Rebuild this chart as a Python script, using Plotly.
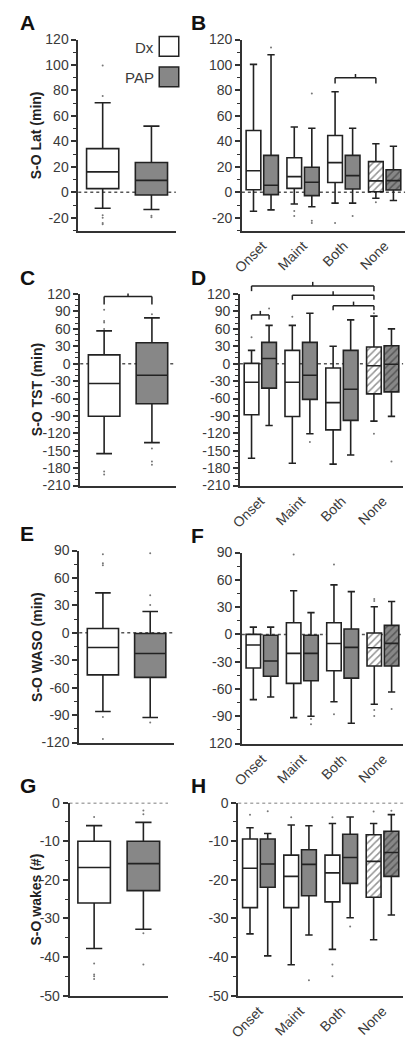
import plotly.graph_objects as go

FONT = "Liberation Sans, Arial, sans-serif"
W, H = 407, 1046
DX_FILL = "white"
PAP_FILL = "#878787"
EDGE = "#222222"
TXT = "#3a3a3a"

groups = ["Dx", "PAP"]
cats = ["Onset", "Maint", "Both", "None"]

# ---------------- Panel A: S-O Lat (min) ----------------
A_low = [-12.5, -13.5]
A_q1 = [2.9, -2.1]
A_med = [16.1, 9.4]
A_q3 = [34.3, 23.4]
A_high = [70.4, 52.0]
A_out = [[99.5, 75.6, -18.0, -20.0, -24.0, -25.0], [-18.4, -19.5]]

# ---------------- Panel B ----------------
B_dx_low = [-14.9, -9.2, -8.5, -4.6]
B_dx_q1 = [2.0, 3.1, 7.7, 0.5]
B_dx_med = [16.9, 12.3, 23.3, 9.0]
B_dx_q3 = [48.5, 27.2, 44.6, 24.1]
B_dx_high = [100.5, 51.3, 79.0, 38.2]
B_pap_low = [-13.8, -11.3, -8.5, -6.4]
B_pap_q1 = [-1.8, -2.6, 2.6, 1.8]
B_pap_med = [5.6, 7.9, 13.1, 9.2]
B_pap_q3 = [29.0, 19.7, 29.0, 17.7]
B_pap_high = [108.0, 50.3, 50.3, 36.2]
B_out_dx = [[], [-14.6, -18.5], [-24.0], [-7.7]]
B_out_pap = [[113.8], [77.7, -22.3, -24.0], [-18.5], []]

# ---------------- Panel C: S-O TST (min) ----------------
C_low = [-155.0, -136.0]
C_q1 = [-90.5, -69.0]
C_med = [-34.0, -20.0]
C_q3 = [15.3, 36.0]
C_high = [56.6, 79.0]
C_out = [[93.0, 73.6, 71.0, 60.0, -185.6, -191.0], [85.0, -146.0, -168.6, -174.0]]

# ---------------- Panel D ----------------
D_dx_low = [-163.0, -171.5, -173.0, -99.0]
D_dx_q1 = [-88.0, -91.0, -114.0, -52.0]
D_dx_med = [-32.0, -32.0, -67.0, -3.4]
D_dx_q3 = [0.6, 23.0, -7.3, 28.8]
D_dx_high = [23.0, 66.0, 30.0, 82.0]
D_pap_low = [-106.6, -120.7, -157.4, -90.8]
D_pap_q1 = [-42.0, -61.5, -97.6, -48.5]
D_pap_med = [9.0, -20.0, -44.0, -1.0]
D_pap_q3 = [36.7, 36.7, 23.0, 31.0]
D_pap_high = [66.0, 87.0, 75.6, 60.0]
D_out_dx = [[45.7], [80.7], [], [87.0, -120.7]]
D_out_pap = [[95.0], [-135.0], [], [-168.6]]

# ---------------- Panel E: S-O WASO (min) ----------------
E_low = [-86.0, -92.5]
E_q1 = [-45.9, -48.7]
E_med = [-16.0, -22.6]
E_q3 = [4.7, -0.7]
E_high = [43.7, 23.3]
E_out = [[86.0, 76.0, 74.0, -92.0, -116.0], [87.0, 41.0, 30.5, -98.0]]

# ---------------- Panel F ----------------
F_dx_low = [-71.7, -91.5, -74.0, -76.8]
F_dx_q1 = [-37.0, -53.8, -40.0, -34.8]
F_dx_med = [-11.7, -20.9, -10.0, -14.6]
F_dx_q3 = [0.0, 12.8, 12.8, 1.5]
F_dx_high = [8.0, 48.0, 54.5, 30.4]
F_pap_low = [-68.8, -90.0, -97.7, -63.3]
F_pap_q1 = [-46.0, -51.0, -48.0, -34.8]
F_pap_med = [-29.3, -20.9, -14.3, -9.9]
F_pap_q3 = [-1.0, -1.0, 5.9, 9.9]
F_pap_high = [8.0, 24.0, 47.0, 36.2]
F_out_dx = [[], [87.8], [76.8, -87.8], [39.0, 36.6, -83.0, -89.6]]
F_out_pap = [[], [-93.0, -98.8], [], [-82.0]]

# ---------------- Panel G: S-O wakes (#) ----------------
G_low = [-37.8, -32.8]
G_q1 = [-26.0, -22.8]
G_med = [-16.8, -15.8]
G_q3 = [-10.0, -10.0]
G_high = [-5.95, -5.1]
G_out = [[-3.7, -41.7, -44.5, -45.0, -45.7], [-2.0, -3.0, -33.8, -41.9]]

# ---------------- Panel H ----------------
H_dx_low = [-34.0, -42.0, -38.0, -35.5]
H_dx_q1 = [-27.2, -27.2, -25.7, -24.5]
H_dx_med = [-17.0, -19.1, -18.2, -15.2]
H_dx_q3 = [-9.4, -13.6, -13.6, -8.3]
H_dx_high = [-6.5, -5.8, -5.4, -5.4]
H_pap_low = [-39.7, -34.3, -29.8, -29.1]
H_pap_q1 = [-21.9, -24.1, -20.9, -19.1]
H_pap_med = [-15.9, -16.0, -14.2, -12.9]
H_pap_q3 = [-9.4, -12.2, -8.2, -7.4]
H_pap_high = [-8.0, -6.0, -3.7, -3.1]
H_out_dx = [[-3.1], [-3.8], [-3.8, -41.9, -45.0], [-2.3]]
H_out_pap = [[-2.2], [-46.0], [-32.1], [-2.1]]

# significance brackets: (panel n, from (cat, group), to (cat, group), level, drop, tick up)
brackets = [
    (2, (2, 0), (3, 0), 90, 4.5, 3),
    (3, (0, 0), (0, 1), 116, 14, 5),
    (4, (0, 0), (3, 0), 134, 9, 7),
    (4, (1, 0), (3, 0), 118, 8, 7),
    (4, (2, 0), (3, 0), 100, 8, 7),
    (4, (0, 0), (0, 1), 84, 8, 7),
]

# ---------------- layout of panels (pixels) ----------------
panel_cfg = {
    1: dict(letter="A", x=(70, 170), y=(226, 32), yr=(-30, 120), dt=20, mn=10, title="S-O Lat (min)", left=True),
    2: dict(letter="B", x=(237.7, 405), y=(226, 32), yr=(-30, 120), dt=20, mn=10, left=False),
    3: dict(letter="C", x=(72, 170), y=(485, 290.5), yr=(-210, 120), dt=30, mn=10, title="S-O TST (min)", left=True),
    4: dict(letter="D", x=(235.7, 403), y=(485, 290.5), yr=(-210, 120), dt=30, mn=10, left=False),
    5: dict(letter="E", x=(71, 168), y=(746, 551), yr=(-120, 90), dt=30, mn=15, title="S-O WASO (min)", left=True),
    6: dict(letter="F", x=(237.7, 403), y=(747, 553), yr=(-120, 90), dt=30, mn=15, left=False),
    7: dict(letter="G", x=(61, 162), y=(1003, 807), yr=(-50, 0), dt=10, mn=5, title="S-O wakes (#)", left=True),
    8: dict(letter="H", x=(234, 403), y=(1003, 807), yr=(-50, 0), dt=10, mn=5, left=False),
}

OFF = 0.215


def sfx(n):
    return "" if n == 1 else str(n)


def pos(n, cat, grp):
    if panel_cfg[n]["left"]:
        return float(grp)
    return cat + (-OFF if grp == 0 else OFF)


fig = go.Figure()


def add_box(n, x, lo, q1, med, q3, hi, fill, hatch, width):
    xa, ya = "x" + sfx(n), "y" + sfx(n)
    if hatch:
        fig.add_trace(go.Bar(
            x=[x], y=[q3 - q1], base=[q1], width=width, xaxis=xa, yaxis=ya,
            marker=dict(color=fill, line=dict(width=0),
                        pattern=dict(shape="/", fgcolor="#2a2a2a", bgcolor=fill, size=5, solidity=0.3)),
            showlegend=False, hoverinfo="skip"))
    fig.add_trace(go.Box(
        x=[x], lowerfence=[lo], q1=[q1], median=[med], q3=[q3], upperfence=[hi],
        width=width, whiskerwidth=0.5, boxpoints=False,
        fillcolor="rgba(0,0,0,0)" if hatch else fill,
        line=dict(color=EDGE, width=1.6), xaxis=xa, yaxis=ya, showlegend=False))


def add_out(n, x, vals):
    if vals:
        fig.add_trace(go.Scatter(x=[x] * len(vals), y=vals, mode="markers",
                                 marker=dict(size=2, color="#777"),
                                 xaxis="x" + sfx(n), yaxis="y" + sfx(n),
                                 showlegend=False, hoverinfo="skip"))


left_data = {
    1: (A_low, A_q1, A_med, A_q3, A_high, A_out),
    3: (C_low, C_q1, C_med, C_q3, C_high, C_out),
    5: (E_low, E_q1, E_med, E_q3, E_high, E_out),
    7: (G_low, G_q1, G_med, G_q3, G_high, G_out),
}
for n, (lo, q1, md, q3, hi, outs) in left_data.items():
    for g in range(2):
        x = pos(n, 0, g)
        add_box(n, x, lo[g], q1[g], md[g], q3[g], hi[g], DX_FILL if g == 0 else PAP_FILL, False, 0.66)
        add_out(n, x, outs[g])

right_data = {
    2: ((B_dx_low, B_dx_q1, B_dx_med, B_dx_q3, B_dx_high, B_out_dx),
        (B_pap_low, B_pap_q1, B_pap_med, B_pap_q3, B_pap_high, B_out_pap)),
    4: ((D_dx_low, D_dx_q1, D_dx_med, D_dx_q3, D_dx_high, D_out_dx),
        (D_pap_low, D_pap_q1, D_pap_med, D_pap_q3, D_pap_high, D_out_pap)),
    6: ((F_dx_low, F_dx_q1, F_dx_med, F_dx_q3, F_dx_high, F_out_dx),
        (F_pap_low, F_pap_q1, F_pap_med, F_pap_q3, F_pap_high, F_out_pap)),
    8: ((H_dx_low, H_dx_q1, H_dx_med, H_dx_q3, H_dx_high, H_out_dx),
        (H_pap_low, H_pap_q1, H_pap_med, H_pap_q3, H_pap_high, H_out_pap)),
}
for n, grp_data in right_data.items():
    for g, (lo, q1, md, q3, hi, outs) in enumerate(grp_data):
        for c in range(len(cats)):
            x = pos(n, c, g)
            add_box(n, x, lo[c], q1[c], md[c], q3[c], hi[c],
                    DX_FILL if g == 0 else PAP_FILL, cats[c] == "None", 0.36)
            add_out(n, x, outs[c])

layout = dict(width=W, height=H, margin=dict(l=0, r=0, t=0, b=0),
              paper_bgcolor="white", plot_bgcolor="white",
              barmode="overlay", boxmode="overlay", showlegend=False,
              font=dict(family=FONT, color=TXT, size=14))

shapes, annots = [], []
for n, cfg in panel_cfg.items():
    s = sfx(n)
    x0, x1 = cfg["x"]
    yb, yt = cfg["y"]
    xs = {"domain": [x0 / W, x1 / W], "range": [-0.5, 1.5] if cfg["left"] else [-0.5, 3.5],
          "showline": True, "linecolor": "#333", "linewidth": 1.6, "ticks": "",
          "showgrid": False, "zeroline": False, "anchor": "y" + s, "fixedrange": True}
    if cfg["left"]:
        xs["showticklabels"] = False
    else:
        xs.update(tickmode="array", tickvals=list(range(len(cats))), ticktext=cats,
                  tickangle=-45, tickfont=dict(size=14, color=TXT, family=FONT))
    r0, r1 = cfg["yr"]
    dt = cfg["dt"]
    tv = list(range(r0 + (-r0 % dt), r1 + 1, dt))
    if n == 6:
        tt = ["120" if v == -120 else ("-" + str(-v) if v < 0 else str(v)) for v in tv]
    else:
        tt = [("-" + str(-v)) if v < 0 else str(v) for v in tv]
    ys = {"domain": [1 - yb / H, 1 - yt / H], "range": [r0, r1], "showline": True,
          "linecolor": "#333", "linewidth": 1.6, "ticks": "outside", "ticklen": 5,
          "tickwidth": 1.5, "tickcolor": "#333", "tickmode": "array",
          "tickvals": tv, "ticktext": tt,
          "showgrid": False, "zeroline": False, "anchor": "x" + s,
          "tickfont": dict(size=14, color=TXT, family=FONT), "fixedrange": True,
          "minor": dict(dtick=cfg["mn"], tick0=0, ticks="outside", ticklen=3,
                        tickwidth=1.2, tickcolor="#333", showgrid=False)}
    layout["xaxis" + s] = xs
    layout["yaxis" + s] = ys

    # dotted zero line
    shapes.append(dict(type="line", xref="x" + s + " domain", yref="y" + s, x0=0, x1=1, y0=0, y1=0,
                       line=dict(color="#555", width=1.5, dash="dot"), layer="below"))
    # panel letter
    annots.append(dict(text=f"<b>{cfg['letter']}</b>", xref="paper", yref="paper",
                       x=(8 if cfg["left"] else 184) / W, y=1 - (yt - 17) / H,
                       xanchor="left", yanchor="middle", showarrow=False,
                       font=dict(size=21, color="#111", family=FONT)))
    if cfg.get("title"):
        annots.append(dict(text=f"<b>{cfg['title']}</b>", xref="paper", yref="y" + s + " domain",
                           x=27 / W, y=0.5, textangle=-90, showarrow=False,
                           xanchor="center", yanchor="middle",
                           font=dict(size=14, color="#222", family=FONT)))


def to_paper(n, v):
    cfg = panel_cfg[n]
    yb, yt = cfg["y"]
    r0, r1 = cfg["yr"]
    b, t = 1 - yb / H, 1 - yt / H
    return b + (v - r0) / (r1 - r0) * (t - b)


for n, (c0, g0), (c1, g1), lvl, drop, up in brackets:
    xa = "x" + sfx(n)
    xl, xr = pos(n, c0, g0), pos(n, c1, g1)
    yl, yd, yu = to_paper(n, lvl), to_paper(n, lvl - drop), to_paper(n, lvl + up)
    ln = dict(color=EDGE, width=1.5)
    shapes.append(dict(type="line", xref=xa, yref="paper", x0=xl, x1=xr, y0=yl, y1=yl, line=ln))
    shapes.append(dict(type="line", xref=xa, yref="paper", x0=xl, x1=xl, y0=yl, y1=yd, line=ln))
    shapes.append(dict(type="line", xref=xa, yref="paper", x0=xr, x1=xr, y0=yl, y1=yd, line=ln))
    shapes.append(dict(type="line", xref=xa, yref="paper", x0=(xl + xr) / 2, x1=(xl + xr) / 2,
                       y0=yl, y1=yu, line=ln))

# legend (panel A): text on the left, swatch on the right
for i, (name, fill) in enumerate(zip(groups, [DX_FILL, PAP_FILL])):
    top = 29 + i * 31
    shapes.append(dict(type="rect", xref="paper", yref="paper",
                       x0=153 / W, x1=173 / W, y0=1 - (top + 20) / H, y1=1 - top / H,
                       fillcolor=fill, line=dict(color=EDGE, width=1.5)))
    annots.append(dict(text=name, xref="paper", yref="paper", x=150 / W, y=1 - (top + 11) / H,
                       xanchor="right", yanchor="middle", showarrow=False,
                       font=dict(size=15, color=TXT, family=FONT)))

layout["shapes"] = shapes
layout["annotations"] = annots
fig.update_layout(**layout)
fig.write_html("out.html", config={"displayModeBar": False},
               post_script="document.body.style.margin='0';document.body.style.overflow='hidden';")
